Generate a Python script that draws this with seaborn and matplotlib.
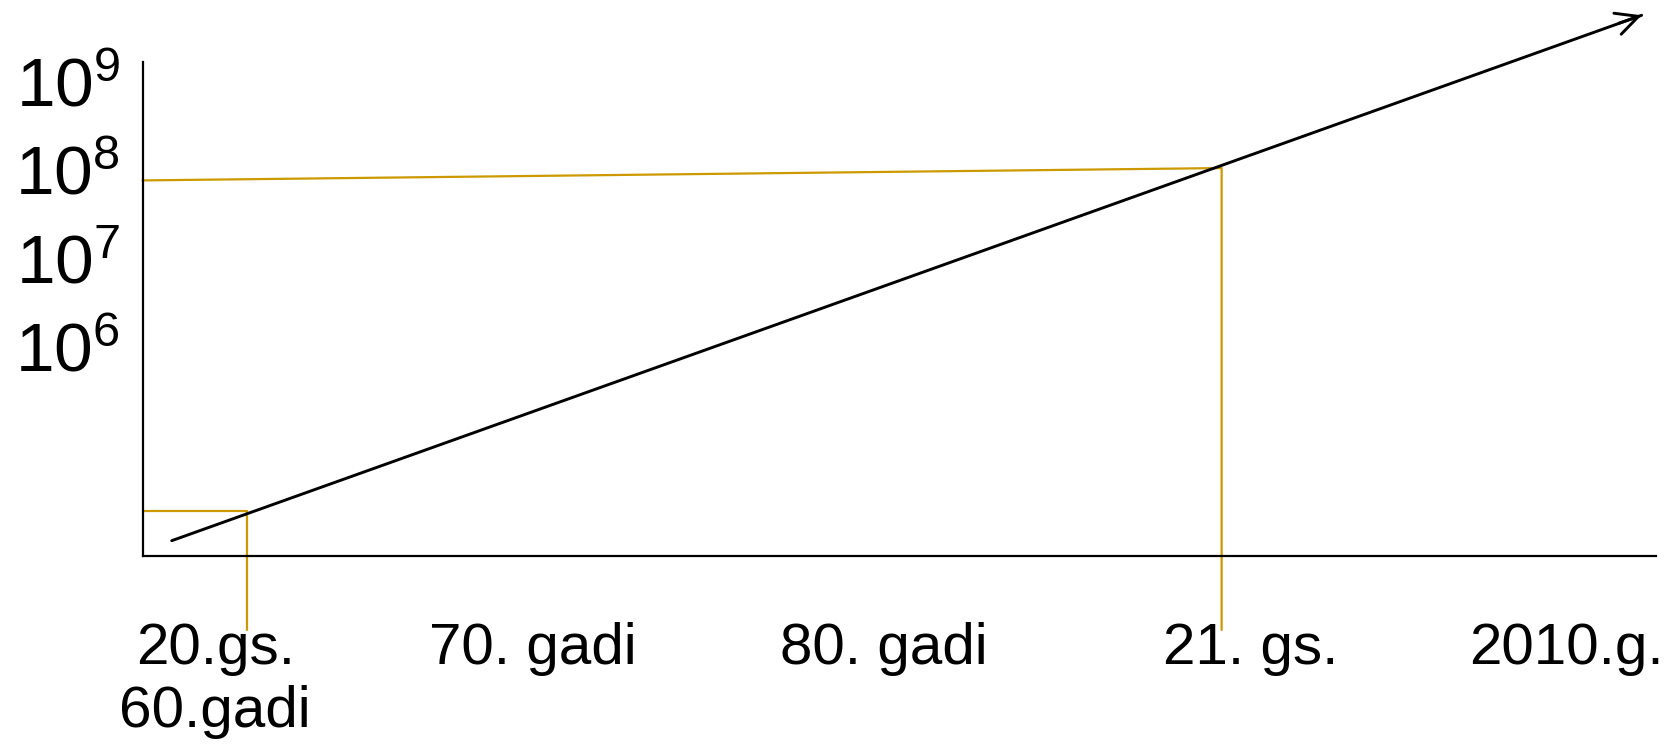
import numpy as np
import pandas as pd
import matplotlib
matplotlib.use("Agg")
import matplotlib.pyplot as plt
import seaborn as sns

# ==========================================
# data (schematic: x = time scale 0..100, y = log10 of count)
# ==========================================
x_tick_pos = [4.8, 25.8, 49.0, 73.2, 94.1]
x_tick_labels = ["20.gs.\n60.gadi", "70. gadi", "80. gadi", "21. gs.", "2010.g."]

y_tick_pos = [6.05, 7.05, 8.05, 9.05]
y_tick_labels = [r"$10^{6}$", r"$10^{7}$", r"$10^{8}$", r"$10^{9}$"]

# growth trend (start / end of arrow)
trend_x = [1.93, 99.05]
trend_y = [3.85, 9.80]

# gold guide lines: 60s point and 21st century point
low_x = [0.0, 6.88, 6.88]
low_y = [4.19, 4.19, 2.84]
high_x = [0.0, 71.3, 71.3]
high_y = [7.93, 8.07, 2.84]

gold = "#CC9900"

sns.set_style("white")
plt.rcParams["font.family"] = ["Liberation Sans", "DejaVu Sans"]
plt.rcParams["mathtext.fontset"] = "custom"
plt.rcParams["mathtext.rm"] = "Liberation Sans"
plt.rcParams["mathtext.default"] = "regular"
plt.rcParams["text.color"] = "black"
plt.rcParams["xtick.color"] = "black"
plt.rcParams["ytick.color"] = "black"

fig = plt.figure(figsize=(16.77, 7.46), dpi=100)
ax = fig.add_axes([142.5 / 1677, (746 - 555.7) / 746,
                   (1656 - 142.5) / 1677, (555.7 - 10) / 746])

df_trend = pd.DataFrame({"x": trend_x, "y": trend_y})
df_low = pd.DataFrame({"x": low_x, "y": low_y})
df_high = pd.DataFrame({"x": high_x, "y": high_y})

sns.lineplot(data=df_low, x="x", y="y", sort=False, estimator=None,
             color=gold, lw=1.6, ax=ax)
sns.lineplot(data=df_high, x="x", y="y", sort=False, estimator=None,
             color=gold, lw=1.6, ax=ax)
sns.lineplot(data=df_trend, x="x", y="y", sort=False, estimator=None,
             color="black", lw=2.1, ax=ax)

# open arrow head at the end of the trend
ax.annotate("", xy=(trend_x[1], trend_y[1]),
            xytext=(trend_x[1] - 1.5, trend_y[1] - 0.09),
            arrowprops=dict(arrowstyle="->", color="black", lw=2.1,
                            mutation_scale=40, shrinkA=0, shrinkB=0),
            annotation_clip=False)

for ln in ax.lines:
    ln.set_clip_on(False)

ax.set_xlim(0, 100)
ax.set_ylim(3.68, 9.86)
ax.set_xticks(x_tick_pos)
ax.set_xticklabels(x_tick_labels, fontsize=42, linespacing=1.2)
ax.set_yticks(y_tick_pos)
ax.set_yticklabels(y_tick_labels, fontsize=50)
ax.tick_params(axis="x", length=0, pad=48, labelcolor="black")
ax.tick_params(axis="y", length=0, pad=16, labelcolor="black")
ax.set_xlabel("")
ax.set_ylabel("")

sns.despine(ax=ax)
ax.spines["left"].set_bounds(3.68, 9.275)
for s in ["left", "bottom"]:
    ax.spines[s].set_linewidth(1.6)
    ax.spines[s].set_color("black")

fig.savefig("out.png", dpi=100)
